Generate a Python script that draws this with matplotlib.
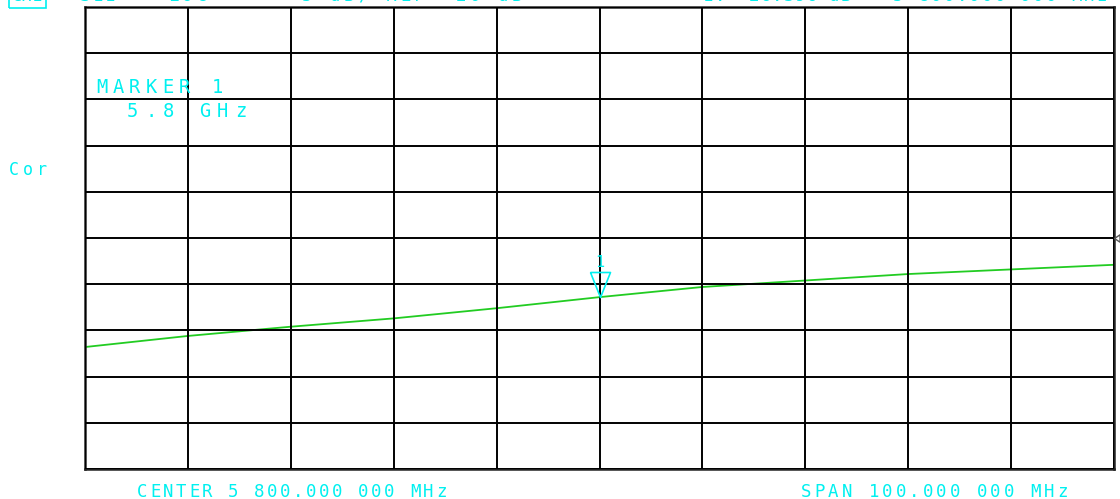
import matplotlib
matplotlib.use('Agg')
import matplotlib.pyplot as plt

# S11 trace (10 MHz per division)
freq_mhz = [5750, 5760, 5770, 5780, 5790, 5800, 5810, 5820, 5830, 5840, 5850]
s11_db = [-31.8, -30.6, -29.6, -28.7, -27.6, -26.4, -25.3, -24.6, -23.9, -23.4, -22.9]

marker_freq = 5800
marker_db = -26.396
ref_db = -20
db_per_div = 5

top_left = ['S11', 'LOG', '5 dB/ REF -20 dB']
top_right = ['1: -26.396 dB', '5 800.000 000 MHz']
bottom_texts = ['CENTER 5 800.000 000 MHz', 'SPAN 100.000 000 MHz']

W, H = 1120, 499
CYAN = '#00f0f0'
MONO = 'DejaVu Sans Mono'


def spaced(fig, text, x, y, pitch, size, va='baseline'):
    # analyzer font has a fixed wide pitch, so place every char on its own
    for k, ch in enumerate(text):
        if ch == ' ':
            continue
        fig.text((x + k * pitch) / W, 1 - y / H, ch, color=CYAN, fontsize=size,
                 family=MONO, ha='left', va=va)


fig = plt.figure(figsize=(W / 100, H / 100), dpi=100)
fig.patch.set_facecolor('white')
ax = fig.add_axes([85 / W, 1 - 469 / H, (1114 - 85) / W, (469 - 7) / H])

ax.plot(freq_mhz, s11_db, color='#22cc22', lw=1.3, zorder=1)

x0, x1 = freq_mhz[0], freq_mhz[-1]
y0, y1 = ref_db - 5 * db_per_div, ref_db + 5 * db_per_div
ax.set_xlim(x0, x1)
ax.set_ylim(y0, y1)
ax.set_xticks([x0 + i * (x1 - x0) / 10 for i in range(11)])
ax.set_yticks([y0 + i * db_per_div for i in range(11)])
ax.grid(True, color='black', lw=1.4, zorder=3)
ax.set_axisbelow(False)
ax.tick_params(length=0, labelbottom=False, labelleft=False)
for sp in ax.spines.values():
    sp.set_color('#222222')
    sp.set_linewidth(1.8)

# marker 1: open triangle with its tip on the trace
tri = [(-4, 10), (4, 10), (0, 0), (-4, 10)]
ax.plot([marker_freq], [marker_db], marker=tri, markersize=36, mfc='none',
        mec=CYAN, mew=1.2, zorder=5, ls='none')
ax.annotate('1', (marker_freq, marker_db), xytext=(0, 25), textcoords='offset points',
            ha='center', va='center', color=CYAN, fontsize=11, family=MONO)

# reference position arrow on the right edge
ax.plot([x1], [ref_db], marker=[(0, 0), (6, -4), (6, 4), (0, 0)], markersize=8,
        mfc='none', mec='#555555', mew=1.0, clip_on=False, ls='none', zorder=6)

# header line, mostly cut by the top of the screen
fig.text(12 / W, 1 - 5 / H, 'CH1', color=CYAN, fontsize=12.5, family=MONO, va='bottom',
         bbox=dict(boxstyle='square,pad=0.15', fc='none', ec=CYAN, lw=1.2))
spaced(fig, top_left[0], 80, 5, 12.5, 12.5, va='bottom')
spaced(fig, top_left[1], 168, 5, 14, 12.5, va='bottom')
spaced(fig, top_left[2], 302, 5, 14, 12.5, va='bottom')
spaced(fig, top_right[0], 703, 5, 11.5, 12.5, va='bottom')
spaced(fig, top_right[1], 893, 5, 12.7, 12.5, va='bottom')

spaced(fig, 'MARKER 1', 96, 93, 16.5, 13.5)
spaced(fig, ' 5.8 GHz', 109, 117, 18, 13.5)
spaced(fig, 'Cor', 9, 175, 14, 12)

spaced(fig, bottom_texts[0], 137, 497, 13.0, 12.5)
spaced(fig, bottom_texts[1], 801, 497, 13.5, 12.5)

plt.savefig('out.png', dpi=100)
